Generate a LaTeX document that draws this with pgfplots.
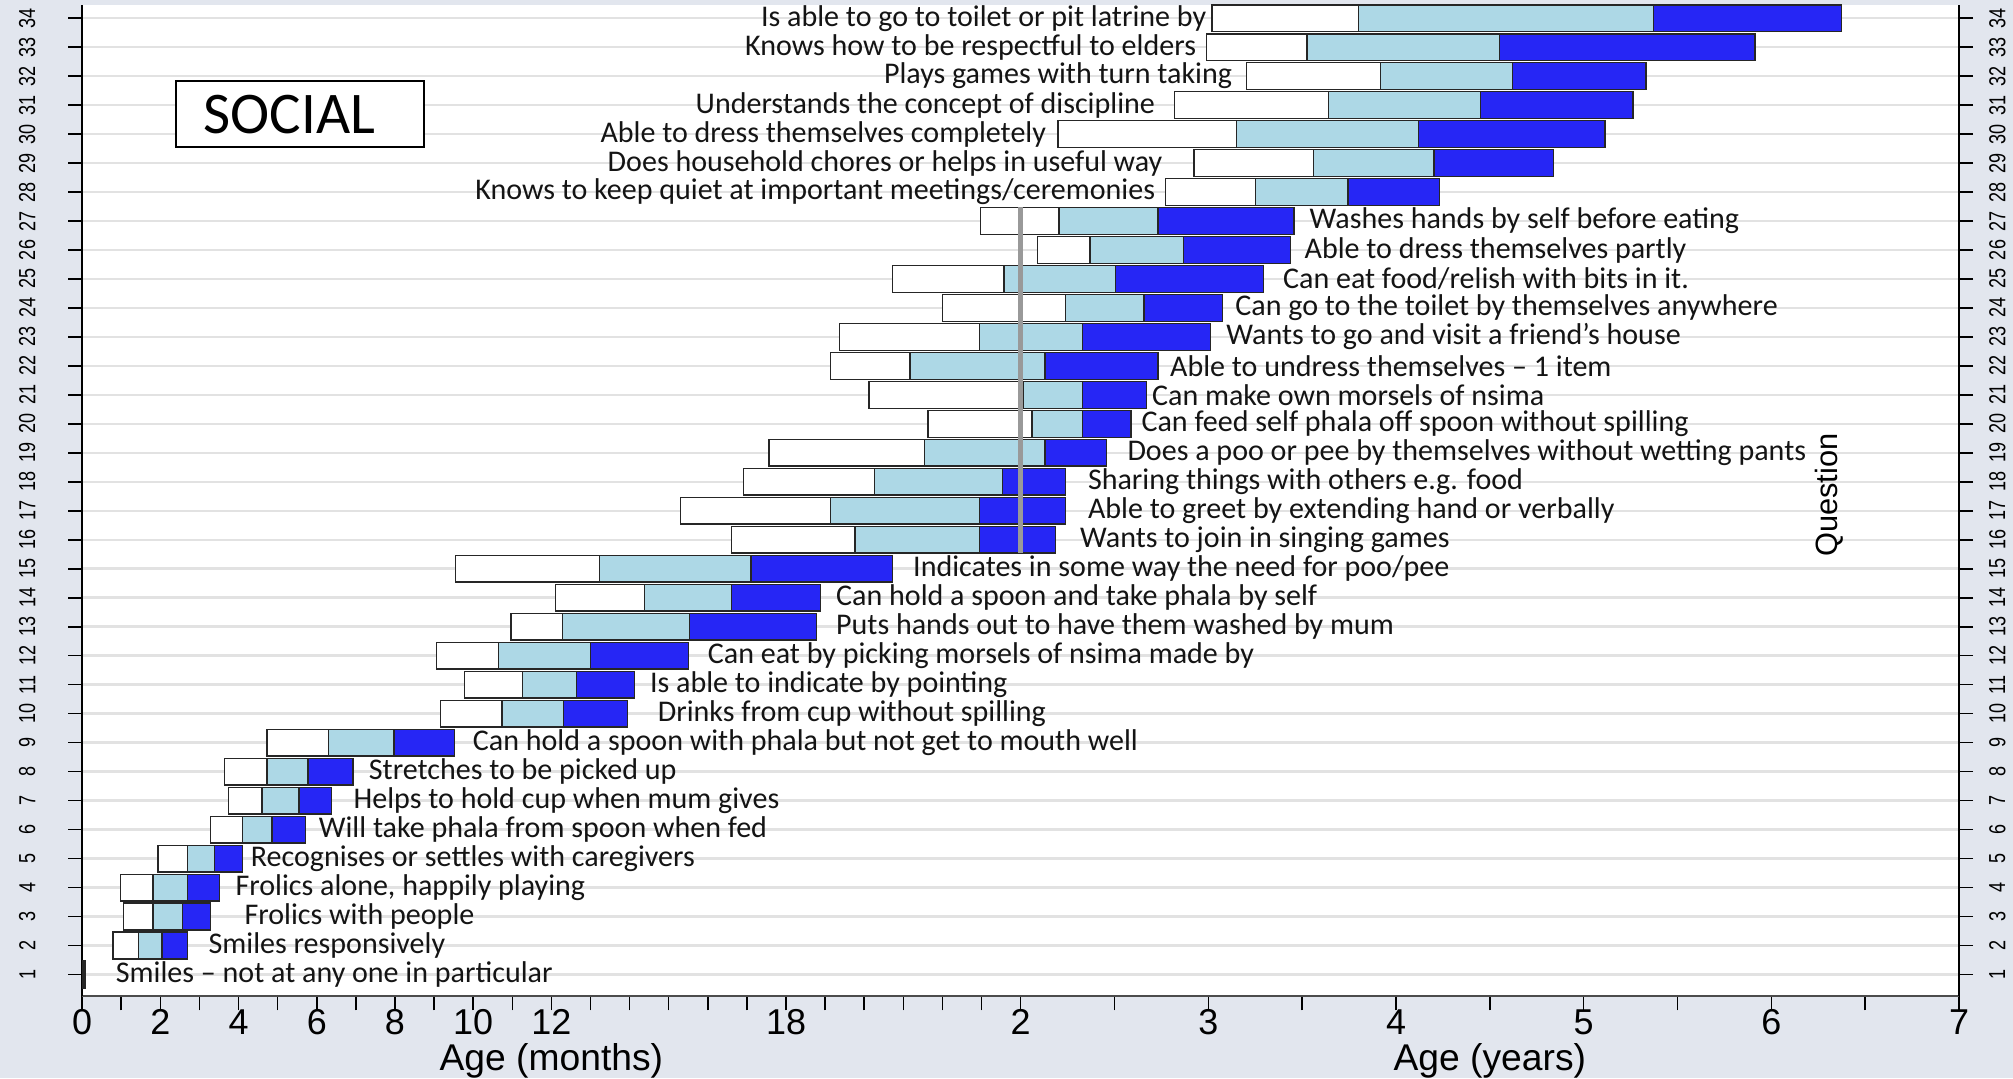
\documentclass[border=0pt]{standalone}
\usepackage{fontspec}
\setmainfont{Liberation Sans}
\newfontfamily\calfont{Carlito}
\usepackage{graphicx}
\usepackage{pgfplots}
\usepackage{pgfplotstable}
\pgfplotsset{compat=1.18}
\definecolor{bg}{RGB}{226,230,238}
\definecolor{lblue}{RGB}{173,216,230}
\definecolor{dblue}{RGB}{38,38,245}
\definecolor{gridc}{RGB}{226,226,226}
\tikzset{
  bx/.style={draw=black!85, line width=0.55pt},
  lab/.style={font=\calfont\fontsize{11.7}{13}\selectfont, text=black!92, inner sep=0pt},
}

% piecewise age scale: months up to 24, then 0.4 per month
\newcommand\tr[2]{\pgfmathparse{(#1<24) ? #1 : 24+0.4*(#1-24)}\edef#2{\pgfmathresult}}

% q = question, a,b,c,d = box boundaries (age in months)
\pgfplotstableread{
q a b c d
1 0.02 0.05 0.07 0.09
2 0.79 1.44 2.04 2.69
3 1.05 1.81 2.56 3.28
4 0.98 1.81 2.69 3.51
5 1.94 2.69 3.38 4.10
6 3.28 4.10 4.86 5.71
7 3.74 4.60 5.55 6.37
8 3.64 4.73 5.78 6.93
9 4.73 6.30 7.98 9.52
10 9.16 10.74 12.31 13.95
11 9.78 11.26 12.64 14.12
12 9.06 10.64 13.00 15.50
13 10.97 12.28 15.53 18.78
14 12.11 14.38 16.61 18.88
15 9.55 13.23 17.10 20.72
16 16.61 19.76 22.95 26.22
17 15.30 19.14 22.95 26.87
18 16.91 20.26 23.54 26.87
19 17.56 21.54 25.56 29.50
20 21.63 24.74 27.94 31.06
21 20.12 24.16 27.94 32.05
22 19.14 21.17 25.56 32.78
23 19.37 22.95 27.94 36.15
24 22.00 26.87 31.88 36.89
25 20.72 23.57 30.08 39.53
26 25.07 28.43 34.43 41.24
27 22.98 26.46 32.78 41.49
28 33.28 39.02 44.94 50.77
29 35.08 42.72 50.44 58.07
30 26.38 37.79 49.45 61.36
31 33.85 43.70 53.39 63.16
32 38.45 46.99 55.45 63.98
33 35.90 42.30 54.62 70.96
34 36.23 45.59 64.48 76.47
}\bars

\begin{document}
\begin{tikzpicture}
\fill[bg] (-32pt,-32pt) rectangle (752pt,388pt);
\begin{axis}[
  scale only axis, width=731pt, height=386pt,
  xmin=0, xmax=48, ymin=0.25, ymax=34.45,
  clip=false,
  axis background/.style={fill=white},
  axis lines=left, axis line style={-},
  x axis line style={black!70, line width=0.9pt},
  y axis line style={black, line width=0.8pt},
  tick align=outside,
  major tick length=5.5pt, minor tick length=5.5pt,
  tick style={black, line width=0.6pt},
  xtick={0,2,4,6,8,10,12,18,24,28.8,33.6,38.4,43.2,48},
  xticklabels={0,2,4,6,8,10,12,18,2,3,4,5,6,7},
  minor xtick={1,3,5,7,9,11,13,14,15,16,17,19,20,21,22,23,26.4,31.2,36,40.8,45.6},
  xticklabel style={font=\fontsize{14}{15}\selectfont, inner sep=0pt},
  xticklabel shift=-0.5pt,
  ytick={1,...,34},
  yticklabel={\scalebox{0.78}[1]{\pgfmathprintnumber[assume math mode=true]{\tick}}},
  yticklabel style={font=\fontsize{9}{10}\selectfont, rotate=90, anchor=south, inner sep=0pt},
  yticklabel shift=12.5pt,
  ymajorgrids, grid style={gridc, line width=1pt},
]
\pgfplotsforeachungrouped \i in {0,...,33}{%
  \pgfplotstablegetelem{\i}{q}\of\bars \edef\vq{\pgfplotsretval}%
  \pgfplotstablegetelem{\i}{a}\of\bars \tr{\pgfplotsretval}\va
  \pgfplotstablegetelem{\i}{b}\of\bars \tr{\pgfplotsretval}\vb
  \pgfplotstablegetelem{\i}{c}\of\bars \tr{\pgfplotsretval}\vc
  \pgfplotstablegetelem{\i}{d}\of\bars \tr{\pgfplotsretval}\vd
  \pgfmathsetmacro\ylo{\vq-0.46}%
  \pgfmathsetmacro\yhi{\vq+0.46}%
  \edef\tmp{%
   \noexpand\addplot[bx,fill=white,mark=none] coordinates {(\va,\ylo) (\vb,\ylo) (\vb,\yhi) (\va,\yhi)} -- cycle;
   \noexpand\addplot[bx,fill=lblue,mark=none] coordinates {(\vb,\ylo) (\vc,\ylo) (\vc,\yhi) (\vb,\yhi)} -- cycle;
   \noexpand\addplot[bx,fill=dblue,mark=none] coordinates {(\vc,\ylo) (\vd,\ylo) (\vd,\yhi) (\vc,\yhi)} -- cycle;
  }\tmp
}
% two-panel join at 2 years
\addplot[gray!80, line width=1.7pt, mark=none] coordinates {(24,15.55) (24,27.48)};

\node[lab,anchor=west] at (axis cs:0.85,1) {Smiles – not at any one in particular};
\node[lab,anchor=west] at (axis cs:3.22,2) {Smiles responsively};
\node[lab,anchor=west] at (axis cs:4.14,3) {Frolics with people};
\node[lab,anchor=west] at (axis cs:3.91,4) {Frolics alone, happily playing};
\node[lab,anchor=west] at (axis cs:4.30,5) {Recognises or settles with caregivers};
\node[lab,anchor=west] at (axis cs:6.04,6) {Will take phala from spoon when fed};
\node[lab,anchor=west] at (axis cs:6.93,7) {Helps to hold cup when mum gives};
\node[lab,anchor=west] at (axis cs:7.32,8) {Stretches to be picked up};
\node[lab,anchor=west] at (axis cs:9.98,9) {Can hold a spoon with phala but not get to mouth well};
\node[lab,anchor=west] at (axis cs:14.71,10) {Drinks from cup without spilling};
\node[lab,anchor=west] at (axis cs:14.51,11) {Is able to indicate by pointing};
\node[lab,anchor=west] at (axis cs:15.99,12) {Can eat by picking morsels of nsima made by};
\node[lab,anchor=west] at (axis cs:19.27,13) {Puts hands out to have them washed by mum};
\node[lab,anchor=west] at (axis cs:19.27,14) {Can hold a spoon and take phala by self};
\node[lab,anchor=west] at (axis cs:21.24,15) {Indicates in some way the need for poo/pee};
\node[lab,anchor=west] at (axis cs:25.51,16) {Wants to join in singing games};
\node[lab,anchor=west] at (axis cs:25.71,17) {Able to greet by extending hand or verbally};
\node[lab,anchor=west] at (axis cs:25.71,18) {Sharing things with others e.g. food};
\node[lab,anchor=west] at (axis cs:26.72,19) {Does a poo or pee by themselves without wetting pants};
\node[lab,anchor=west] at (axis cs:27.08,20) {Can feed self phala off spoon without spilling};
\node[lab,anchor=west] at (axis cs:27.35,21) {Can make own morsels of nsima};
\node[lab,anchor=west] at (axis cs:27.81,22) {Able to undress themselves – 1 item};
\node[lab,anchor=west] at (axis cs:29.25,23) {Wants to go and visit a friend’s house};
\node[lab,anchor=west] at (axis cs:29.48,24) {Can go to the toilet by themselves anywhere};
\node[lab,anchor=west] at (axis cs:30.70,25) {Can eat food/relish with bits in it.};
\node[lab,anchor=west] at (axis cs:31.25,26) {Able to dress themselves partly};
\node[lab,anchor=west] at (axis cs:31.38,27) {Washes hands by self before eating};
\node[lab,anchor=east] at (axis cs:27.45,28) {Knows to keep quiet at important meetings/ceremonies};
\node[lab,anchor=east] at (axis cs:27.64,29) {Does household chores or helps in useful way};
\node[lab,anchor=east] at (axis cs:24.66,30) {Able to dress themselves completely};
\node[lab,anchor=east] at (axis cs:27.45,31) {Understands the concept of discipline};
\node[lab,anchor=east] at (axis cs:29.42,32) {Plays games with turn taking};
\node[lab,anchor=east] at (axis cs:28.50,33) {Knows how to be respectful to elders};
\node[lab,anchor=east] at (axis cs:28.76,34) {Is able to go to toilet or pit latrine by};

\node[draw=black, line width=0.9pt, fill=white, minimum width=96.5pt, minimum height=25.5pt, inner sep=0pt] at (axis cs:5.57,30.69) {};
\node[font=\calfont\fontsize{23}{26}\selectfont, inner sep=0pt] at (axis cs:5.30,30.69) {SOCIAL};
\node[rotate=90, font=\fontsize{12}{14}\selectfont] at (axis cs:44.68,17.54) {Question};
\node[font=\fontsize{14.5}{16}\selectfont, inner sep=0pt, anchor=base] at (axis cs:12,0.25) [yshift=-28.8pt] {Age (months)};
\node[font=\fontsize{14.5}{16}\selectfont, inner sep=0pt, anchor=base] at (axis cs:36,0.25) [yshift=-28.8pt] {Age (years)};
\end{axis}
\begin{axis}[
  scale only axis, width=731pt, height=386pt,
  xmin=0, xmax=48, ymin=0.25, ymax=34.45,
  axis x line=none, axis y line=right, axis line style={-, black, line width=0.8pt},
  tick align=outside, major tick length=5.5pt,
  tick style={black, line width=0.6pt},
  ytick={1,...,34},
  yticklabel={\scalebox{0.78}[1]{\pgfmathprintnumber[assume math mode=true]{\tick}}},
  yticklabel style={font=\fontsize{9}{10}\selectfont, rotate=90, anchor=north, inner sep=0pt},
  yticklabel shift=6pt,
]
\end{axis}
\pgfresetboundingbox
\path (-32pt,-32pt) rectangle (752pt,388pt);
\end{tikzpicture}
\end{document}
